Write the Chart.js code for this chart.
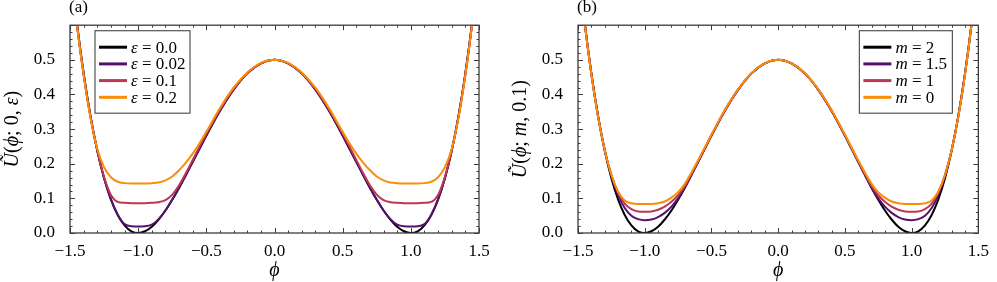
<!DOCTYPE html>
<html>
<head>
<meta charset="utf-8">
<script src="https://cdn.jsdelivr.net/npm/chart.js@4.4.0/dist/chart.umd.min.js"></script>
<style>
html, body { margin: 0; padding: 0; background: #fff; }
#wrapA { position: absolute; left: 0; top: 0; width: 498px; height: 282px; }
#wrapB { position: absolute; left: 498px; top: 0; width: 499px; height: 282px; }
</style>
</head>
<body>
<div id="wrapA"><canvas id="chartA"></canvas></div>
<div id="wrapB"><canvas id="chartB"></canvas></div>
<script>
// sample points along phi (denser in the wells)
const phi = [-1.5, -1.45, -1.4, -1.35, -1.3, -1.25, -1.2, -1.15, -1.1, -1.05, -1.0, -0.95, -0.9, -0.85, -0.8, -0.75, -0.7,
  -0.65, -0.6, -0.55, -0.5, -0.4, -0.3, -0.2, -0.1, 0, 0.1, 0.2, 0.3, 0.4, 0.5, 0.55, 0.6, 0.65,
  0.7, 0.75, 0.8, 0.85, 0.9, 0.95, 1.0, 1.05, 1.1, 1.15, 1.2, 1.25, 1.3, 1.35, 1.4, 1.45, 1.5];

// panel (a): m = 0, varying epsilon
const epsLabels = ['0.0', '0.02', '0.1', '0.2'];
const uEps0 = [0.781, 0.608, 0.461, 0.338, 0.238, 0.158, 0.097, 0.052, 0.022, 0.005, 0, 0.005, 0.018, 0.039, 0.065, 0.096, 0.130,
  0.167, 0.205, 0.243, 0.281, 0.353, 0.414, 0.461, 0.490, 0.5, 0.490, 0.461, 0.414, 0.353, 0.281, 0.243, 0.205, 0.167,
  0.130, 0.096, 0.065, 0.039, 0.018, 0.005, 0, 0.005, 0.022, 0.052, 0.097, 0.158, 0.238, 0.338, 0.461, 0.608, 0.781];
const uEps002 = [0.780, 0.607, 0.460, 0.337, 0.238, 0.158, 0.097, 0.053, 0.026, 0.0195, 0.019, 0.0195, 0.024, 0.040, 0.065, 0.097, 0.131,
  0.168, 0.206, 0.244, 0.282, 0.353, 0.414, 0.461, 0.490, 0.5, 0.490, 0.461, 0.414, 0.353, 0.282, 0.244, 0.206, 0.168,
  0.131, 0.097, 0.065, 0.040, 0.024, 0.0195, 0.019, 0.0195, 0.026, 0.053, 0.097, 0.158, 0.238, 0.337, 0.460, 0.607, 0.780];
const uEps01 = [0.777, 0.605, 0.458, 0.336, 0.239, 0.162, 0.110, 0.090, 0.087, 0.086, 0.086, 0.086, 0.087, 0.089, 0.095, 0.111, 0.138,
  0.173, 0.211, 0.250, 0.287, 0.357, 0.416, 0.462, 0.490, 0.5, 0.490, 0.462, 0.416, 0.357, 0.287, 0.250, 0.211, 0.173,
  0.138, 0.111, 0.095, 0.089, 0.087, 0.086, 0.086, 0.086, 0.087, 0.090, 0.110, 0.162, 0.239, 0.336, 0.458, 0.605, 0.777];
const uEps02 = [0.775, 0.603, 0.455, 0.333, 0.243, 0.190, 0.161, 0.148, 0.144, 0.143, 0.143, 0.143, 0.144, 0.146, 0.152, 0.163, 0.181,
  0.203, 0.229, 0.259, 0.292, 0.361, 0.420, 0.463, 0.491, 0.5, 0.491, 0.463, 0.420, 0.361, 0.292, 0.259, 0.229, 0.203,
  0.181, 0.163, 0.152, 0.146, 0.144, 0.143, 0.143, 0.143, 0.144, 0.148, 0.161, 0.190, 0.243, 0.333, 0.455, 0.603, 0.775];

// panel (b): epsilon = 0.1, varying m
const mLabels = ['2', '1.5', '1', '0'];
const uM2 = [0.781, 0.608, 0.461, 0.338, 0.238, 0.158, 0.097, 0.052, 0.022, 0.005, 0, 0.005, 0.018, 0.039, 0.065, 0.096, 0.130,
  0.167, 0.205, 0.243, 0.281, 0.353, 0.414, 0.461, 0.490, 0.5, 0.490, 0.461, 0.414, 0.353, 0.281, 0.243, 0.205, 0.167,
  0.130, 0.096, 0.065, 0.039, 0.018, 0.005, 0, 0.005, 0.022, 0.052, 0.097, 0.158, 0.238, 0.338, 0.461, 0.608, 0.781];
const uM15 = [0.780, 0.607, 0.460, 0.338, 0.240, 0.165, 0.110, 0.072, 0.050, 0.040, 0.037, 0.039, 0.046, 0.058, 0.076, 0.100, 0.131,
  0.168, 0.206, 0.244, 0.282, 0.353, 0.414, 0.461, 0.490, 0.5, 0.490, 0.461, 0.414, 0.353, 0.282, 0.244, 0.206, 0.168,
  0.131, 0.100, 0.076, 0.058, 0.046, 0.039, 0.037, 0.040, 0.050, 0.072, 0.110, 0.165, 0.240, 0.338, 0.460, 0.607, 0.780];
const uM1 = [0.780, 0.607, 0.460, 0.338, 0.240, 0.168, 0.117, 0.085, 0.069, 0.062, 0.061, 0.062, 0.067, 0.076, 0.090, 0.109, 0.135,
  0.170, 0.207, 0.245, 0.282, 0.354, 0.414, 0.461, 0.490, 0.5, 0.490, 0.461, 0.414, 0.354, 0.282, 0.245, 0.207, 0.170,
  0.135, 0.109, 0.090, 0.076, 0.067, 0.062, 0.061, 0.062, 0.069, 0.085, 0.117, 0.168, 0.240, 0.338, 0.460, 0.607, 0.780];
const uM0 = [0.779, 0.606, 0.458, 0.336, 0.240, 0.168, 0.120, 0.094, 0.086, 0.084, 0.084, 0.084, 0.086, 0.091, 0.102, 0.118, 0.142,
  0.175, 0.210, 0.247, 0.284, 0.355, 0.415, 0.462, 0.490, 0.5, 0.490, 0.462, 0.415, 0.355, 0.284, 0.247, 0.210, 0.175,
  0.142, 0.118, 0.102, 0.091, 0.086, 0.084, 0.084, 0.084, 0.086, 0.094, 0.120, 0.168, 0.240, 0.336, 0.458, 0.606, 0.779];

// ticks
const xTicks = [-1.5, -1.0, -0.5, 0, 0.5, 1.0, 1.5];
const xTickLabels = ['\u22121.5', '\u22121.0', '\u22120.5', '0.0', '0.5', '1.0', '1.5'];
const yTicks = [0, 0.1, 0.2, 0.3, 0.4, 0.5];
const yTickLabels = ['0.0', '0.1', '0.2', '0.3', '0.4', '0.5'];

const colors = ['#000004', '#57106e', '#bc3754', '#f98e09'];
const serif = '"Liberation Serif", "DejaVu Serif", serif';

function series(vals) {
    return vals.map((v, i) => ({ x: phi[i], y: v }));
}

// draw text made of upright / italic pieces
function drawMath(ctx, parts, x, y, size, align) {
    let w = 0;
    parts.forEach(p => {
        ctx.font = (p[1] ? 'italic ' : '') + size + 'px ' + serif;
        w += ctx.measureText(p[0]).width;
    });
    let cx = align === 'center' ? x - w / 2 : x;
    ctx.textAlign = 'left';
    parts.forEach(p => {
        ctx.font = (p[1] ? 'italic ' : '') + size + 'px ' + serif;
        ctx.fillText(p[0], cx, y);
        cx += ctx.measureText(p[0]).width;
    });
}

function makeFramePlugin(cfg) {
    return {
        id: 'frame' + cfg.panel,
        afterDatasetsDraw(chart) {
            const ctx = chart.ctx;
            const a = chart.chartArea;
            const xs = chart.scales.x, ys = chart.scales.y;
            ctx.save();

            // inward ticks on all sides
            ctx.strokeStyle = '#3c3c3c';
            ctx.lineWidth = 1;
            for (let i = -15; i <= 15; i++) {
                const px = Math.round(xs.getPixelForValue(i / 10)) + 0.5;
                const len = (i % 5 === 0) ? 5 : 2.5;
                ctx.beginPath();
                ctx.moveTo(px, a.bottom); ctx.lineTo(px, a.bottom - len);
                ctx.moveTo(px, a.top); ctx.lineTo(px, a.top + len);
                ctx.stroke();
            }
            for (let i = 0; i <= 30; i++) {
                const py = Math.round(ys.getPixelForValue(i * 0.02)) + 0.5;
                const len = (i % 5 === 0) ? 5 : 2.5;
                ctx.beginPath();
                ctx.moveTo(a.left, py); ctx.lineTo(a.left + len, py);
                ctx.moveTo(a.right, py); ctx.lineTo(a.right - len, py);
                ctx.stroke();
            }
            ctx.lineWidth = 1.3;
            ctx.strokeRect(a.left, a.top, a.right - a.left, a.bottom - a.top);

            // legend
            const lw = cfg.legendWidth;
            const bx = cfg.legendSide === 'left' ? a.left + 25 : a.right - 26 - lw;
            const by = a.top + 5.5;
            ctx.fillStyle = 'rgba(255,255,255,0.85)';
            ctx.fillRect(bx, by, lw, 82.5);
            ctx.strokeStyle = '#555';
            ctx.lineWidth = 1.2;
            ctx.strokeRect(bx, by, lw, 82.5);
            chart.data.datasets.forEach((ds, i) => {
                const ry = by + 16.5 + i * 16.7;
                ctx.strokeStyle = ds.borderColor;
                ctx.lineWidth = 3;
                ctx.beginPath();
                ctx.moveTo(bx + 4, ry); ctx.lineTo(bx + 32, ry);
                ctx.stroke();
                ctx.fillStyle = '#000';
                ctx.textBaseline = 'middle';
                drawMath(ctx, [[cfg.legendVar, true], [' = ' + cfg.legendValues[i], false]], bx + 36, ry + 1, 17, 'left');
            });

            // panel label
            ctx.fillStyle = '#000';
            ctx.textBaseline = 'alphabetic';
            drawMath(ctx, [[cfg.panel, false]], a.left - 1, 12, 17, 'left');

            // x title
            ctx.textBaseline = 'middle';
            drawMath(ctx, [['\u03d5', true]], (a.left + a.right) / 2, 271, 20, 'center');

            // y title
            ctx.translate(a.left - 57, (a.top + a.bottom) / 2);
            ctx.rotate(-Math.PI / 2);
            drawMath(ctx, cfg.yTitle, 0, 0, 20, 'center');
            ctx.restore();
        }
    };
}

function makeChart(canvasId, values, cfg) {
    const datasets = values.map((vals, i) => ({
        data: series(vals),
        borderColor: colors[i],
        borderWidth: 2,
        pointRadius: 0,
        fill: false,
        cubicInterpolationMode: 'monotone',
        order: values.length - i
    }));
    return new Chart(document.getElementById(canvasId), {
        type: 'line',
        data: { datasets: datasets },
        options: {
            responsive: true,
            maintainAspectRatio: false,
            animation: false,
            layout: { padding: { top: 16, right: cfg.padRight, left: 0, bottom: 0 } },
            plugins: { legend: { display: false }, tooltip: { enabled: false } },
            scales: {
                x: {
                    type: 'linear', min: -1.5, max: 1.5,
                    grid: { display: false, drawTicks: false },
                    border: { display: false },
                    afterBuildTicks: s => { s.ticks = xTicks.map(v => ({ value: v })); },
                    afterFit: s => { s.height = 49; },
                    ticks: {
                        autoSkip: false, maxRotation: 0, padding: 8, color: '#000',
                        font: { family: serif, size: 17 },
                        callback: (v, i) => xTickLabels[i]
                    }
                },
                y: {
                    type: 'linear', min: 0, max: 0.6,
                    grid: { display: false, drawTicks: false },
                    border: { display: false },
                    afterBuildTicks: s => { s.ticks = yTicks.map(v => ({ value: v })); },
                    afterFit: s => { s.width = cfg.yWidth; },
                    ticks: {
                        autoSkip: false, padding: 15, color: '#000',
                        font: { family: serif, size: 17 },
                        callback: (v, i) => yTickLabels[i]
                    }
                }
            }
        },
        plugins: [makeFramePlugin(cfg)]
    });
}

makeChart('chartA', [uEps0, uEps002, uEps01, uEps02], {
    panel: '(a)', padRight: 19, yWidth: 70,
    legendSide: 'left', legendWidth: 95, legendVar: '\u03b5', legendValues: epsLabels,
    yTitle: [['\u0168', true], ['(', false], ['\u03d5', true], ['; 0, ', false], ['\u03b5', true], [')', false]]
});

makeChart('chartB', [uM2, uM15, uM1, uM0], {
    panel: '(b)', padRight: 10, yWidth: 80,
    legendSide: 'right', legendWidth: 93, legendVar: 'm', legendValues: mLabels,
    yTitle: [['\u0168', true], ['(', false], ['\u03d5', true], ['; ', false], ['m', true], [', 0.1)', false]]
});
</script>
</body>
</html>
